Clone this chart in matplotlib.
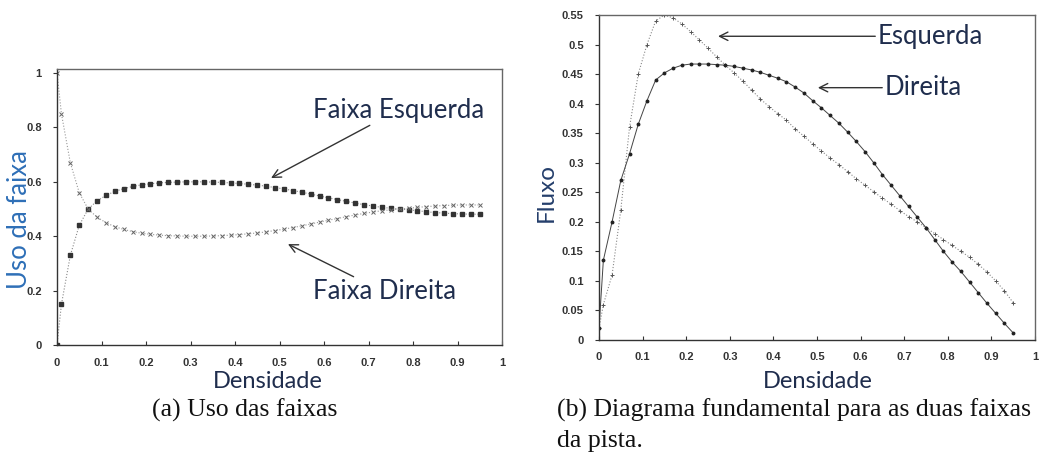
import matplotlib.pyplot as plt

W, H = 1048, 459

# densidade (mesma grade para os dois graficos)
dens = [0.0, 0.01, 0.03, 0.05, 0.07, 0.09, 0.11, 0.13, 0.15, 0.17, 0.19, 0.21,
        0.23, 0.25, 0.27, 0.29, 0.31, 0.33, 0.35, 0.37, 0.39, 0.41, 0.43, 0.45,
        0.47, 0.49, 0.51, 0.53, 0.55, 0.57, 0.59, 0.61, 0.63, 0.65, 0.67, 0.69,
        0.71, 0.73, 0.75, 0.77, 0.79, 0.81, 0.83, 0.85, 0.87, 0.89, 0.91, 0.93, 0.95]

# (a) uso das faixas
uso_esq = [0.0, 0.15, 0.33, 0.44, 0.50, 0.53, 0.55, 0.565, 0.575, 0.583, 0.589, 0.593,
           0.596, 0.598, 0.599, 0.600, 0.600, 0.600, 0.599, 0.598, 0.596, 0.594, 0.591, 0.588,
           0.584, 0.579, 0.574, 0.568, 0.562, 0.555, 0.548, 0.541, 0.535, 0.528, 0.522, 0.516,
           0.511, 0.506, 0.503, 0.500, 0.497, 0.494, 0.490, 0.487, 0.485, 0.483, 0.482, 0.481, 0.481]
uso_dir = [1.0, 0.85, 0.67, 0.56, 0.50, 0.47, 0.45, 0.435, 0.425, 0.417, 0.411, 0.407,
           0.404, 0.402, 0.401, 0.400, 0.400, 0.400, 0.401, 0.402, 0.404, 0.406, 0.409, 0.412,
           0.416, 0.421, 0.426, 0.432, 0.438, 0.445, 0.452, 0.459, 0.465, 0.472, 0.478, 0.484,
           0.489, 0.494, 0.497, 0.500, 0.503, 0.506, 0.509, 0.511, 0.513, 0.514, 0.515, 0.515, 0.515]

# (b) diagrama fundamental
fluxo_esq = [0.02, 0.06, 0.11, 0.22, 0.36, 0.45, 0.50, 0.54, 0.55, 0.545, 0.535, 0.522,
             0.508, 0.494, 0.479, 0.465, 0.452, 0.438, 0.423, 0.408, 0.395, 0.383, 0.372, 0.357,
             0.345, 0.332, 0.320, 0.308, 0.297, 0.285, 0.273, 0.262, 0.251, 0.240, 0.230, 0.219,
             0.209, 0.200, 0.190, 0.180, 0.170, 0.160, 0.150, 0.140, 0.128, 0.115, 0.100, 0.083, 0.063]
fluxo_dir = [0.02, 0.135, 0.20, 0.27, 0.315, 0.365, 0.405, 0.44, 0.452, 0.46, 0.465, 0.467,
             0.467, 0.467, 0.466, 0.465, 0.463, 0.460, 0.457, 0.453, 0.448, 0.443, 0.437, 0.428,
             0.418, 0.405, 0.393, 0.380, 0.367, 0.352, 0.336, 0.319, 0.300, 0.280, 0.262, 0.244,
             0.226, 0.208, 0.190, 0.170, 0.150, 0.132, 0.116, 0.098, 0.080, 0.062, 0.045, 0.028, 0.012]

xticks = [0, 0.1, 0.2, 0.3, 0.4, 0.5, 0.6, 0.7, 0.8, 0.9, 1]
xlabels = ['0', '0.1', '0.2', '0.3', '0.4', '0.5', '0.6', '0.7', '0.8', '0.9', '1']

txt = '#1f2d4d'
fig = plt.figure(figsize=(W / 100, H / 100), dpi=100)


def px(x, y):
    return x / W, 1 - y / H


def estilo(ax):
    for s in ax.spines.values():
        s.set_color('#666666')
        s.set_linewidth(1.0)
    ax.spines['left'].set_color('#333333')
    ax.spines['bottom'].set_color('#333333')
    ax.tick_params(axis='x', direction='in', length=3, width=0.8,
                   colors='#333333', labelsize=8, pad=9)
    ax.tick_params(axis='y', direction='out', length=3, width=0.8,
                   colors='#333333', labelsize=8, pad=8)
    ax.set_xticks(xticks)
    ax.set_xticklabels(xlabels, fontweight='bold', family='Liberation Sans')
    ax.set_xlim(0, 1)


# ---- (a) ----
ax1 = fig.add_axes([57 / W, 1 - 345 / H, 445 / W, 276 / H])
ax1.plot(dens, uso_esq, ':', color='#888888', lw=0.8, marker='s', ms=2.2,
         mfc='#333333', mec='#333333')
ax1.plot(dens, uso_dir, ':', color='#999999', lw=0.8, marker='x', ms=2.6,
         mec='#666666', mew=0.7)
ax1.set_ylim(0, 1.015)
ax1.set_yticks([0, 0.2, 0.4, 0.6, 0.8, 1])
ax1.set_yticklabels(['0', '0.2', '0.4', '0.6', '0.8', '1'], fontweight='bold',
                    family='Liberation Sans')
estilo(ax1)

ax1.annotate('Faixa Esquerda', xy=(0.481, 0.614), xytext=(0.575, 0.864),
             fontsize=18.5, family='Lato', color=txt, va='center', ha='left',
             arrowprops=dict(arrowstyle='->', color='#333333', lw=1.0,
                             mutation_scale=15, shrinkA=0, shrinkB=0))
ax1.annotate('Faixa Direita', xy=(0.519, 0.371), xytext=(0.575, 0.195),
             fontsize=18.5, family='Lato', color=txt, va='center', ha='left',
             arrowprops=dict(arrowstyle='->', color='#333333', lw=1.0,
                             mutation_scale=15, shrinkA=0, shrinkB=0))

# ---- (b) ----
ax2 = fig.add_axes([599 / W, 1 - 340 / H, 436 / W, 325 / H])
ax2.plot(dens, fluxo_esq, ':', color='#888888', lw=0.8, marker='+', ms=3.5,
         mec='#555555', mew=0.7)
ax2.plot(dens, fluxo_dir, '-', color='#444444', lw=0.7, marker='o', ms=1.8,
         mfc='#222222', mec='#222222')
ax2.set_ylim(0, 0.55)
yt = [0, 0.05, 0.1, 0.15, 0.2, 0.25, 0.3, 0.35, 0.4, 0.45, 0.5, 0.55]
ax2.set_yticks(yt)
ax2.set_yticklabels(['0', '0.05', '0.1', '0.15', '0.2', '0.25', '0.3', '0.35',
                     '0.4', '0.45', '0.5', '0.55'], fontweight='bold',
                    family='Liberation Sans')
estilo(ax2)

ax2.annotate('Esquerda', xy=(0.273, 0.514), xytext=(0.64, 0.514),
             fontsize=18.5, family='Lato', color=txt, va='center', ha='left',
             arrowprops=dict(arrowstyle='->', color='#333333', lw=1.0,
                             mutation_scale=15, shrinkA=0, shrinkB=0))
ax2.annotate('Direita', xy=(0.502, 0.427), xytext=(0.656, 0.427),
             fontsize=18.5, family='Lato', color=txt, va='center', ha='left',
             arrowprops=dict(arrowstyle='->', color='#333333', lw=1.0,
                             mutation_scale=15, shrinkA=0, shrinkB=0))

# rotulos dos eixos
fig.text(*px(268, 382), 'Densidade', fontsize=17, family='Lato', color=txt,
         ha='center', va='center')
fig.text(*px(818, 382), 'Densidade', fontsize=17, family='Lato', color=txt,
         ha='center', va='center')
fig.text(*px(20, 220), 'Uso da faixa', fontsize=18.5, family='Lato',
         color='#2e6fb7', rotation=90, ha='center', va='center')
fig.text(*px(546, 193), 'Fluxo', fontsize=17.5, family='Lato', color='#243e6b',
         rotation=90, ha='center', va='center')

# legendas das figuras
fig.text(*px(245, 410), '(a) Uso das faixas', fontsize=18.5,
         family='Liberation Serif', color='#111111', ha='center', va='center')
fig.text(*px(557, 410), '(b) Diagrama fundamental para as duas faixas',
         fontsize=18.5, family='Liberation Serif', color='#111111', ha='left',
         va='center')
fig.text(*px(557, 441), 'da pista.', fontsize=18.5, family='Liberation Serif',
         color='#111111', ha='left', va='center')

fig.savefig('out.png', dpi=100)
